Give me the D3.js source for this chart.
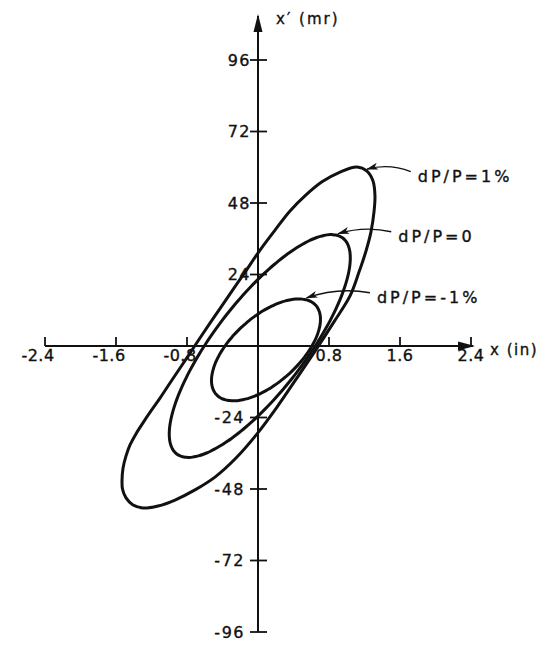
<!DOCTYPE html>
<html>
<head>
<meta charset="utf-8">
<script src="https://cdn.jsdelivr.net/npm/d3@7"></script>
<style>
  body { margin: 0; background: #fff; }
  svg text { font-family: "DejaVu Sans", sans-serif; fill: #111; stroke: #111; stroke-width: 0.35px; }
</style>
</head>
<body>
<svg id="chart" width="543" height="646"></svg>
<script>
// tick values and labels
var xTicks = [-2.4, -1.6, -0.8, 0.8, 1.6, 2.4];
var xTickLabels = ["-2.4", "-1.6", "-0.8", "0.8", "1.6", "2.4"];
var yTicks = [96, 72, 48, 24, -24, -48, -72, -96];
var yTickLabels = ["96", "72", "48", "24", "-24", "-48", "-72", "-96"];

var curveNames = ["dP/P=1%", "dP/P=0", "dP/P=-1%"];
var labelX = [1.80, 1.58, 1.34];
var labelXp = [55.2, 35.0, 14.5];

// dP/P = 1% : hand drawn outline (x in, x' mr)
var outlineX1 = [1.115, 1.228, 1.296, 1.318, 1.307, 1.273, 1.217, 1.138, 1.037, 0.856,
                 0.665, 0.439, 0.214, -0.011, -0.248, -0.485, -0.710, -0.935, -1.127, -1.296,
                 -1.408, -1.487, -1.527, -1.532, -1.521, -1.487, -1.442, -1.375, -1.296, -1.206,
                 -1.104, -0.969, -0.811, -0.654, -0.485, -0.315, -0.146, 0.023, 0.192, 0.361,
                 0.541, 0.721, 0.924];
var outlineXp1 = [60.1, 58.7, 55.4, 50.4, 45.0, 38.3, 31.9, 24.8, 16.8, 8.1,
                  -0.7, -10.7, -20.5, -29.5, -37.6, -44.0, -48.3, -51.7, -53.7, -54.4,
                  -53.4, -51.0, -48.0, -45.0, -41.0, -36.9, -33.2, -29.5, -25.8, -21.8,
                  -17.5, -11.4, -4.4, 2.7, 10.1, 17.5, 24.8, 32.2, 38.9, 45.3,
                  50.7, 55.1, 58.4];

// dP/P = 0 and -1% : ellipses (centre, half extents, x-x' correlation)
var centerX = [0.02, 0.09];
var centerXp = [0.0, -1.3];
var halfX = [1.02, 0.614];
var halfXp = [37.4, 17.1];
var corr = [0.79, 0.6];

(function () {
  var svg = d3.select("svg#chart");
  var x = d3.scaleLinear().domain([-2.4, 2.4]).range([45, 471]);
  var y = d3.scaleLinear().domain([-96, 96]).range([632, 60]);
  var x0 = x(0), y0 = y(0);

  svg.append("defs").append("marker")
     .attr("id", "head").attr("viewBox", "0 -5 12 10")
     .attr("refX", 11).attr("refY", 0)
     .attr("markerWidth", 12).attr("markerHeight", 10)
     .attr("markerUnits", "userSpaceOnUse")
     .attr("orient", "auto")
     .append("path").attr("d", "M0,-3.5L12,0L0,3.5L3,0Z").attr("fill", "#111");

  // axes
  var gaxis = svg.append("g").attr("stroke", "#111").attr("fill", "none");
  gaxis.append("line").attr("x1", x0).attr("x2", x0)
       .attr("y1", y(96) - 44).attr("y2", y(-96)).attr("stroke-width", 2);
  gaxis.append("line").attr("x1", x(-2.4)).attr("x2", x(2.4) + 2)
       .attr("y1", y0).attr("y2", y0).attr("stroke-width", 2);
  svg.append("path")
     .attr("d", "M" + x0 + "," + (y(96) - 46) + "l-4.5,18h9z").attr("fill", "#111");
  svg.append("path")
     .attr("d", "M" + (x(2.4) + 4) + "," + y0 + "l-17,-4.5v9z").attr("fill", "#111");

  gaxis.selectAll("line.yt").data(yTicks).enter().append("line")
       .attr("x1", x0 - 8).attr("x2", x0 + 9)
       .attr("y1", d => y(d)).attr("y2", d => y(d)).attr("stroke-width", 1.8);
  gaxis.selectAll("line.xt").data(xTicks).enter().append("line")
       .attr("x1", d => x(d)).attr("x2", d => x(d))
       .attr("y1", y0).attr("y2", y0 - 9).attr("stroke-width", 1.8);

  svg.selectAll("text.yl").data(yTicks).enter().append("text")
     .attr("x", d => x0 - (d < 0 ? 13 : 7)).attr("y", d => y(d)).attr("dy", "0.36em")
     .attr("text-anchor", "end").style("font-size", "16px")
     .style("letter-spacing", "1.5px")
     .text((d, i) => yTickLabels[i]);
  svg.selectAll("text.xl").data(xTicks).enter().append("text")
     .attr("x", d => x(d) + (d < 0 ? -7 : 0)).attr("y", y0 + 15)
     .attr("text-anchor", "middle").style("font-size", "16px")
     .style("letter-spacing", "0.5px")
     .text((d, i) => xTickLabels[i]);

  svg.append("text").attr("x", x0 + 18).attr("y", y(96) - 36)
     .style("font-size", "15px").style("letter-spacing", "2px").text("x\u2032 (mr)");
  svg.append("text").attr("x", x(2.4) + 19).attr("y", y0 + 9)
     .style("font-size", "15px").style("letter-spacing", "1.5px").text("x (in)");

  // curves
  function ellipse(i) {
    var phi = Math.acos(corr[i]);
    return d3.range(0, 360, 3).map(function (a) {
      var t = a * Math.PI / 180;
      return [centerX[i] + halfX[i] * Math.cos(t), centerXp[i] + halfXp[i] * Math.cos(t - phi)];
    });
  }
  var shapes = [d3.zip(outlineX1, outlineXp1), ellipse(0), ellipse(1)];

  var line = d3.line().x(d => x(d[0])).y(d => y(d[1]))
               .curve(d3.curveCatmullRomClosed.alpha(0.5));
  var gell = svg.append("g");
  shapes.forEach(function (pts, i) {
    gell.append("path").attr("d", line(pts))
        .attr("fill", "none").attr("stroke", "#111").attr("stroke-width", 3);

    // leader arrow lands just right of the top of the curve
    var top = d3.maxIndex(pts, d => d[1]);
    var n = pts.length;
    var step = pts[(top + 1) % n][0] > pts[top][0] ? 1 : -1;
    var k = top;
    while (x(pts[k][0]) < x(pts[top][0]) + 7) k = (k + step + n) % n;
    var ex = x(pts[k][0]), ey = y(pts[k][1]) - 2;
    var sx = x(labelX[i]) - 7, sy = y(labelXp[i]) - 10;
    var cx = (sx + ex) / 2, cy = Math.min(sy, ey) - 6;
    gell.append("path")
        .attr("d", "M" + sx + "," + sy + "Q" + cx + "," + cy + " " + ex + "," + ey)
        .attr("fill", "none").attr("stroke", "#111").attr("stroke-width", 1.4)
        .attr("marker-end", "url(#head)");
    gell.append("text").attr("x", x(labelX[i])).attr("y", y(labelXp[i]))
        .style("font-size", "16px").style("letter-spacing", "3px").text(curveNames[i]);
  });
})();
</script>
</body>
</html>
